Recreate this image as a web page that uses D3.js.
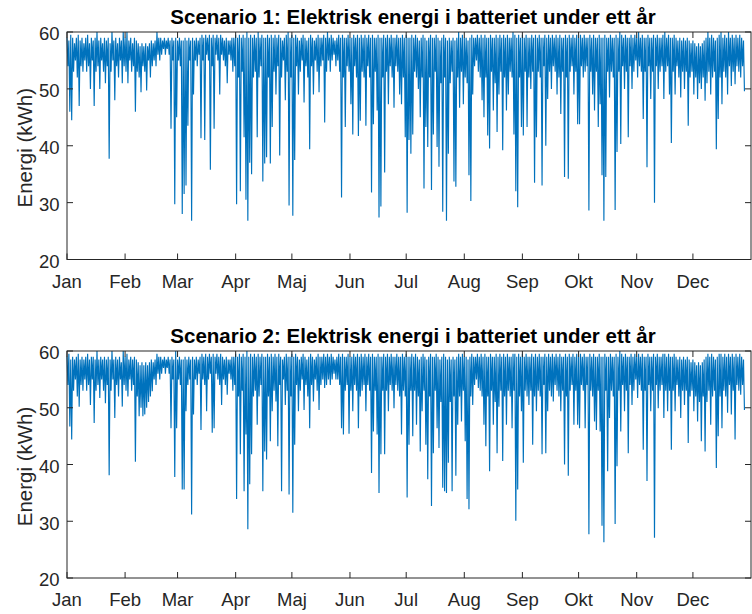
<!DOCTYPE html>
<html>
<head>
<meta charset="utf-8">
<script src="https://cdn.jsdelivr.net/npm/d3@7"></script>
<style>
  body { margin: 0; background: #fff; }
  svg { display: block; }
</style>
</head>
<body>
<div id="chart"></div>
<script>
// month ticks, day-of-year where each month starts
const monthStarts = [0, 31, 59, 90, 120, 151, 181, 212, 243, 273, 304, 334];
const monthLabels = ["Jan", "Feb", "Mar", "Apr", "Maj", "Jun", "Jul", "Aug", "Sep", "Okt", "Nov", "Dec"];
const yTicks = [20, 30, 40, 50, 60];

const titles = [
    "Scenario 1: Elektrisk energi i batteriet under ett år",
    "Scenario 2: Elektrisk energi i batteriet under ett år"
];

// daily high / low energy (kWh), one value per day
const s1High = [
    59, 58.5, 59.5, 59, 58, 59, 59.5, 58.5, 59, 58,
    59, 59.5, 58, 59, 58.5, 59, 60, 58.5, 59, 58,
    59, 58.5, 59, 58, 60, 58.5, 59, 58, 59, 58.5,
    60, 59, 60, 58.5, 59, 58, 59, 58.5, 58, 57.5,
    58, 57.5, 58, 57.5, 58, 58.5, 58, 58.5, 60, 59,
    59, 58.5, 59, 58.5, 59, 58.5, 59, 58.5, 59, 58.5,
    59, 58.5, 58.5, 59, 58.5, 59, 58.5, 59, 58.5, 59,
    58.5, 59, 59.5, 59, 59.5, 59, 59.5, 59, 59.5, 59,
    59.5, 59, 59.5, 59, 58.5, 59, 58.5, 58.5, 59, 59,
    59.5, 59, 59.5, 59, 59.5, 59, 60, 59, 59.5, 59,
    59.5, 59, 60, 59, 59.5, 59, 59, 59.5, 59, 59.5,
    59, 59.5, 59, 59.5, 59, 58.5, 59, 59.5, 60, 59,
    59.5, 59, 59.5, 59, 58.5, 59, 59.5, 59, 58.5, 59,
    59.5, 59, 58.5, 59, 59.5, 59, 59, 59.5, 59, 60,
    59, 59.5, 59, 58.5, 59, 59.5, 59, 59.5, 59, 59,
    59.5, 59, 59, 59.5, 59, 59.5, 59, 59.5, 59, 59.5,
    59, 59.5, 59, 59.5, 59, 59, 59.5, 59, 59, 59.5,
    59, 59.5, 59, 59.5, 59, 59, 59.5, 59, 59, 59.5,
    59, 59.5, 59, 59, 59.5, 59, 59.5, 59, 58.5, 59,
    59.5, 59, 58.5, 59, 59.5, 59, 59, 59.5, 59, 58.5,
    59, 59.5, 59, 58.5, 59, 58.5, 59, 58.5, 59, 60,
    59, 59.5, 59, 59, 58.5, 59, 59.5, 59, 59, 59.5,
    59, 59.5, 59, 59.5, 59, 59, 59.5, 59, 59, 59.5,
    59, 59.5, 59, 59.5, 59, 59.5, 59, 59, 60, 59.5,
    59, 59.5, 59, 59.5, 59, 59.5, 59, 59, 59.5, 59,
    59.5, 59, 59.5, 59, 59, 59.5, 59, 59.5, 59, 59.5,
    59, 59.5, 59, 59.5, 59, 59, 59.5, 59, 59.5, 59,
    59.5, 59, 59.5, 59, 59.5, 59, 59.5, 59, 59, 59.5,
    59, 59.5, 59, 59, 59.5, 59, 59, 59.5, 59, 59,
    59.5, 59, 59, 59.5, 59, 60, 59.5, 59, 59.5, 59,
    59, 59.5, 59, 59.5, 59, 60, 59, 59.5, 59, 59,
    59.5, 59, 59, 59.5, 59, 59.5, 59, 59, 59.5, 60,
    59, 59.5, 59, 59, 59.5, 59, 58.5, 59, 58.5, 59,
    58.5, 59, 58.5, 58, 58.5, 58, 57.5, 58, 57.5, 58,
    58.5, 59, 60, 59, 59.5, 59, 58.5, 59, 59.5, 60,
    59, 59.5, 59, 60, 59, 59.5, 59, 59.5, 59, 59.5,
    59, 58.5
];
const s1Low = [
    54, 46, 44.5, 53, 55, 52, 47, 54, 53, 55,
    53, 54, 50, 55, 47, 53, 54, 50, 55, 53,
    51, 54, 37.7, 53, 55, 48, 54, 52, 55, 51,
    54, 53, 51, 55, 53, 54, 46, 53, 52, 49.4,
    54, 53, 49.7, 55, 52, 54, 55, 54, 56, 55,
    56, 57, 56, 57, 56, 43, 55, 29.7, 45, 55,
    54, 28, 31.5, 33, 43.5, 55, 26.8, 49, 55, 54,
    56, 41.3, 55, 41, 56, 55, 35.8, 54, 43, 56,
    55, 49, 56, 55, 54, 51, 56, 55, 53, 54,
    29.7, 52, 32, 53, 41.5, 30.5, 26.8, 37, 35, 52,
    53, 41.5, 52, 54, 33.7, 36.9, 38, 52, 36.9, 43.3,
    53, 49, 54, 38.3, 52, 55, 48, 53, 29.5, 52,
    27.7, 37.5, 54, 49, 53, 55, 47.6, 54, 52, 39.4,
    54, 49, 55, 53, 49.4, 54, 55, 44.1, 53, 55,
    53, 55, 56, 54, 55, 53, 30.9, 52, 43.3, 54,
    53, 47.3, 42, 54, 52, 41.7, 44.4, 53, 52, 43.5,
    54, 52, 31.8, 43.8, 53, 46.2, 27.4, 29.3, 52, 35.3,
    53, 47.3, 54, 52, 46.7, 54, 53, 49, 47.3, 52,
    41.5, 28.2, 41, 38.6, 42, 53, 52, 50, 45, 52,
    32.5, 43.3, 39.8, 52, 32.2, 42, 53, 39.8, 36.3, 51,
    28.4, 52, 26.8, 38.6, 51, 53, 33.7, 32.8, 52, 46.7,
    53, 47.3, 52, 51, 34.8, 30.3, 49, 54, 55, 53,
    52, 48, 45, 52, 41.8, 39.5, 53, 46.2, 51, 42.4,
    49, 53, 39.2, 52, 46.2, 49, 53, 52, 42, 32,
    29.2, 52, 43.3, 41.8, 53, 43.3, 52, 50, 53, 33.5,
    41.5, 53, 52, 33, 54, 40, 48.2, 53, 50, 54,
    53, 49, 52, 45.6, 53, 34.5, 52, 34.2, 53, 54,
    49, 53, 43.8, 43.8, 54, 52, 53, 54, 28.6, 53,
    49, 46.2, 53, 43.3, 47.3, 34.8, 26.8, 34.5, 53, 48.5,
    53, 52, 28.7, 38.9, 53, 40.3, 54, 50, 53, 41.5,
    54, 50, 53, 55, 52, 54, 53, 44.7, 53, 36.2,
    54, 48.2, 53, 30, 54, 50, 53, 54, 48.2, 53,
    54, 49, 40.5, 53, 49, 54, 52, 48.5, 53, 50,
    53, 43.5, 52, 53, 49, 52, 48.2, 51, 50, 52,
    47.9, 51, 53, 49, 52, 53, 39.4, 44.7, 52, 47.3,
    53, 52, 49, 54, 50.5, 53, 50.8, 54, 53, 52,
    54, 49.6
];
const s2High = [
    59, 59.5, 58.5, 59, 58.5, 59, 59.5, 58.5, 59, 58.5,
    59, 59.5, 58.5, 59, 59, 58.5, 60, 58.5, 59, 58.5,
    59, 58.5, 59, 58.5, 60, 58.5, 59, 58.5, 59, 58,
    60, 59, 59.5, 58.5, 59, 58.5, 59, 58.5, 58, 57.5,
    58, 57.5, 58, 57.5, 58, 58.5, 58, 58.5, 59.5, 59,
    59, 58.5, 59, 58.5, 59, 58.5, 59, 58.5, 60, 58.5,
    59, 58.5, 58.5, 59, 58.5, 59, 58.5, 59, 58.5, 59,
    58.5, 59, 59.5, 59, 59.5, 59, 59.5, 59, 59.5, 59,
    59.5, 59, 59.5, 59, 58.5, 59, 58.5, 58.5, 59, 59,
    59.5, 59, 59.5, 59, 59.5, 59, 60, 59, 59.5, 59,
    59.5, 59, 59.5, 59, 59.5, 59, 59, 59.5, 59, 59.5,
    59, 59.5, 59, 59.5, 59, 58.5, 59, 59.5, 59, 59,
    59.5, 59, 59.5, 59, 58.5, 59, 59.5, 59, 58.5, 59,
    59.5, 59, 58.5, 59, 59.5, 59, 59, 59.5, 59, 59.5,
    59, 59.5, 59, 58.5, 59, 59.5, 59, 59.5, 59, 59,
    59.5, 59, 59, 59.5, 59, 59.5, 59, 59.5, 59, 59.5,
    59, 59.5, 59, 59.5, 59, 59, 59.5, 59, 59, 59.5,
    59, 59.5, 59, 59.5, 59, 59, 59.5, 59, 59, 59.5,
    59, 59.5, 59, 59, 59.5, 59, 59.5, 59, 58.5, 59,
    59.5, 59, 58.5, 59, 59.5, 59, 59, 59.5, 59, 58.5,
    59, 59.5, 59, 58.5, 59, 58.5, 59, 58.5, 59, 59.5,
    59, 59.5, 59, 59, 58.5, 59, 59.5, 59, 59, 59.5,
    59, 59.5, 59, 59.5, 59, 59, 59.5, 59, 59, 59.5,
    59, 59.5, 59, 59.5, 59, 59.5, 59, 59, 59.5, 59.5,
    59, 59.5, 59, 59.5, 59, 59.5, 59, 59, 59.5, 59,
    59.5, 59, 59.5, 59, 59, 59.5, 59, 59.5, 59, 59.5,
    59, 59.5, 59, 59.5, 59, 59, 59.5, 59, 59.5, 59,
    59.5, 59, 59.5, 59, 59.5, 59, 59.5, 59, 59, 59.5,
    59, 59.5, 59, 59, 59.5, 59, 59, 59.5, 59, 59,
    59.5, 59, 59, 59.5, 59, 60, 59.5, 59, 59.5, 59,
    59, 59.5, 59, 59.5, 59, 59.5, 59, 59.5, 59, 59,
    59.5, 59, 59, 59.5, 59, 59.5, 59, 59, 59.5, 59.5,
    59, 59.5, 59, 59, 59.5, 59, 58.5, 59, 58.5, 59,
    58.5, 59, 58.5, 58, 58.5, 58, 57.5, 58, 57.5, 58,
    58.5, 59, 59.5, 59, 59.5, 59, 58.5, 59, 59.5, 59.5,
    59, 59.5, 59, 59.5, 59, 59.5, 59, 59.5, 59, 59.5,
    59, 58.5
];
const s2Low = [
    54, 46.7, 44.4, 53, 55, 52, 50.2, 54, 53, 55,
    53, 54, 50.5, 55, 47.3, 53, 54, 51.7, 55, 53,
    50.8, 54, 38.1, 53, 55, 48.2, 54, 52, 55, 50.2,
    54, 53, 52, 55, 53, 54, 40.5, 52, 48.5, 50,
    48.5, 48.8, 50, 51, 52, 52.9, 55, 54, 56, 55,
    56, 57, 56, 57, 56, 46.4, 55, 37.8, 46.4, 55,
    54, 35.6, 35.6, 49.4, 54, 55, 31.2, 48.8, 55, 54,
    56, 46.1, 55, 54, 49.4, 55, 56, 45.6, 46.4, 56,
    55, 54, 50.5, 55, 54, 52.3, 56, 55, 53, 54,
    33.9, 52, 41.8, 53, 35.3, 45.3, 28.6, 36.5, 41.8, 52,
    53, 47, 52, 54, 35.3, 42.3, 40.9, 52, 44.1, 49.4,
    53, 51.1, 43.2, 54, 35.3, 55, 50.5, 53, 34.7, 52,
    31.5, 43.5, 54, 49.4, 53, 55, 49.6, 54, 52, 46.4,
    54, 51.1, 55, 53, 49.6, 54, 55, 53.5, 54, 55,
    54, 55, 56, 55, 55, 54, 46.4, 45.3, 53, 54,
    45.4, 53, 49.4, 54, 53, 46.4, 52, 53, 54, 49.4,
    54, 53, 38.5, 45.8, 53, 45.3, 35, 41.8, 53, 41.8,
    53, 49.4, 54, 53, 49.9, 54, 53, 52, 45.3, 53,
    52, 34.2, 43.5, 53, 45, 53, 47, 52, 42.3, 49.4,
    53, 43.5, 37.4, 52, 32.7, 42, 53, 46.4, 42.9, 51,
    35.9, 35.3, 35, 40.3, 51, 35.3, 52, 38, 47, 52,
    47.6, 53, 44.1, 33.9, 32.1, 52, 50.5, 54, 55, 53.5,
    53, 52, 47, 43.2, 52, 38.8, 53, 47, 51, 42,
    50.2, 53, 40.6, 52, 47, 53, 52, 46.4, 53, 30.1,
    35.6, 52, 49.4, 40.3, 53, 52, 50.5, 53, 43.5, 52,
    49.4, 53, 52, 41.8, 54, 42, 49.4, 53, 52, 51.1,
    54, 53, 52, 49.4, 53, 40, 52, 38, 53, 54,
    47, 53, 47, 46.4, 54, 53, 46.4, 54, 27.7, 53,
    52, 47.6, 46.1, 53, 45.8, 29.2, 26.3, 53, 38.8, 48.2,
    53, 52, 29.5, 39.7, 53, 45.8, 54, 49.4, 53, 42,
    54, 50.5, 53, 55, 51.7, 54, 53, 42.6, 53, 37.1,
    54, 49.4, 53, 27.1, 54, 49.9, 53, 54, 48.2, 53,
    49.4, 53, 42.6, 53, 49.4, 54, 52, 48.2, 53, 50.5,
    53, 43.8, 52, 53, 49.4, 52, 47.6, 51, 44.1, 52,
    42.3, 51, 53, 47, 52, 53, 39.4, 45, 52, 46.4,
    53, 52, 49.1, 54, 48.8, 53, 44.4, 54, 53, 52.3,
    54, 49.6
];

const W = 752, H = 614;
const left = 67, right = 751;
const panels = [
    { top: 32, bottom: 259.5, high: s1High, low: s1Low, title: titles[0] },
    { top: 351, bottom: 578, high: s2High, low: s2Low, title: titles[1] }
];

const axisColor = "#262626";
const lineColor = "#0072BD";
const font = "'Liberation Sans', Arial, Helvetica, sans-serif";

const svg = d3.select("#chart").append("svg")
    .attr("width", W)
    .attr("height", H)
    .style("font-family", font);

const x = d3.scaleLinear().domain([0, 365]).range([left, right]);

function drawPanel(p) {
    const y = d3.scaleLinear().domain([20, 60]).range([p.bottom, p.top]);
    const g = svg.append("g");

    // each day: high point at the start of the day, low point half a day later
    const pts = [];
    p.high.forEach((h, i) => {
        pts.push([i, h]);
        pts.push([i + 0.5, p.low[i]]);
    });

    const line = d3.line()
        .x(d => x(d[0]))
        .y(d => y(d[1]));

    g.append("path")
        .datum(pts)
        .attr("fill", "none")
        .attr("stroke", lineColor)
        .attr("stroke-width", 1.15)
        .attr("stroke-linejoin", "bevel")
        .attr("d", line);

    // box
    g.append("rect")
        .attr("x", left)
        .attr("y", p.top)
        .attr("width", right - left)
        .attr("height", p.bottom - p.top)
        .attr("fill", "none")
        .attr("stroke", axisColor)
        .attr("stroke-width", 1);

    // inward ticks on all four sides
    const tl = 6;
    g.append("g").selectAll("line")
        .data(monthStarts)
        .join("line")
        .attr("x1", d => x(d)).attr("x2", d => x(d))
        .attr("y1", p.bottom).attr("y2", p.bottom - tl)
        .attr("stroke", axisColor);
    g.append("g").selectAll("line")
        .data(monthStarts)
        .join("line")
        .attr("x1", d => x(d)).attr("x2", d => x(d))
        .attr("y1", p.top).attr("y2", p.top + tl)
        .attr("stroke", axisColor);
    g.append("g").selectAll("line")
        .data(yTicks)
        .join("line")
        .attr("x1", left).attr("x2", left + tl)
        .attr("y1", d => y(d)).attr("y2", d => y(d))
        .attr("stroke", axisColor);
    g.append("g").selectAll("line")
        .data(yTicks)
        .join("line")
        .attr("x1", right).attr("x2", right - tl)
        .attr("y1", d => y(d)).attr("y2", d => y(d))
        .attr("stroke", axisColor);

    g.append("g").selectAll("text")
        .data(monthStarts)
        .join("text")
        .attr("x", d => x(d))
        .attr("y", p.bottom + 28)
        .attr("text-anchor", "middle")
        .style("font-size", "18.5px")
        .style("fill", axisColor)
        .text((d, i) => monthLabels[i]);

    g.append("g").selectAll("text")
        .data(yTicks)
        .join("text")
        .attr("x", left - 7.5)
        .attr("y", d => y(d))
        .attr("dy", "0.45em")
        .attr("text-anchor", "end")
        .style("font-size", "18.5px")
        .style("fill", axisColor)
        .text(d => d);

    g.append("text")
        .attr("transform", `translate(32,${(p.top + p.bottom) / 2 + 2}) rotate(-90)`)
        .attr("text-anchor", "middle")
        .style("font-size", "20.5px")
        .style("fill", axisColor)
        .text("Energi (kWh)");

    g.append("text")
        .attr("x", (left + right) / 2 + 4)
        .attr("y", p.top - 8)
        .attr("text-anchor", "middle")
        .style("font-size", "20.5px")
        .style("font-weight", "bold")
        .style("fill", "#000")
        .text(p.title);
}

panels.forEach(drawPanel);
</script>
</body>
</html>
